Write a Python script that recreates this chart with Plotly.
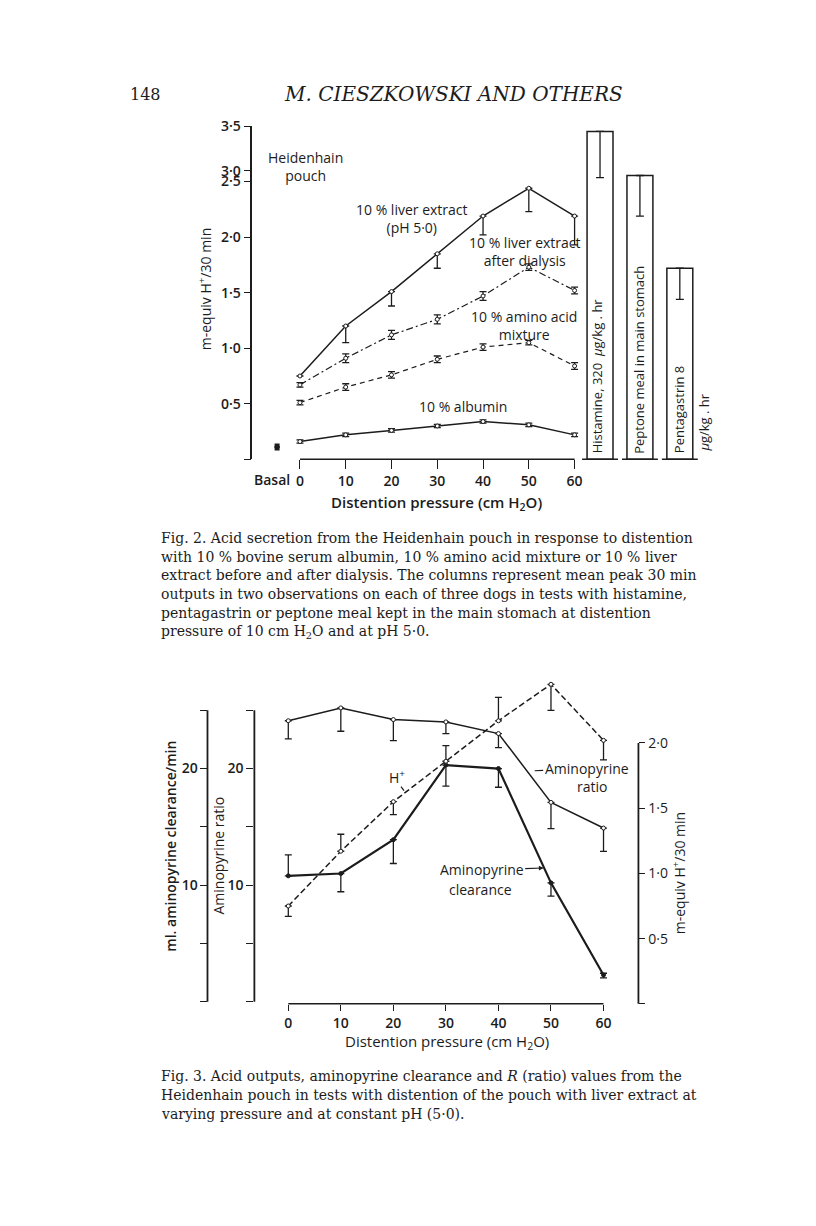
import numpy as np
import plotly.graph_objects as go

# ---------------- data : Fig. 2 (upper chart) ----------------
pressure = [0, 10, 20, 30, 40, 50, 60]
pressure_labels = ["0", "10", "20", "30", "40", "50", "60"]

liver = [0.75, 1.20, 1.51, 1.85, 2.19, 2.44, 2.19]
liver_err_down = [0.0, 0.15, 0.13, 0.13, 0.17, 0.21, 0.26]

dialysis = [0.67, 0.91, 1.12, 1.26, 1.47, 1.73, 1.52]
dialysis_err = [0.02, 0.04, 0.04, 0.04, 0.04, 0.03, 0.03]

amino = [0.51, 0.65, 0.76, 0.90, 1.01, 1.05, 0.84]
amino_err = [0.02, 0.03, 0.03, 0.03, 0.03, 0.02, 0.03]

albumin = [0.16, 0.22, 0.26, 0.30, 0.34, 0.31, 0.22]
albumin_err = [0.015, 0.015, 0.015, 0.015, 0.015, 0.015, 0.015]

basal_x = [-5]
basal_y = [0.11]
basal_err = [0.02]

columns = ["Histamine", "Peptone meal", "Pentagastrin"]
column_vals = [3.44, 2.78, 1.72]
column_err_down = [0.76, 0.59, 0.28]

# broken y axis of the upper chart: data value -> axis position
break_data = [0.0, 2.5, 3.0, 3.5]
break_axis = [0.0, 2.5, 2.598, 3.0]
y1_tick_vals = [0.5, 1.0, 1.5, 2.0, 2.5, 3.0, 3.5]
y1_tick_text = ["0·5", "1·0", "1·5", "2·0", "2·5", "3·0", "3·5"]
y1_minor_vals = [0.0]

# ---------------- data : Fig. 3 (lower chart) ----------------
ratio = [24.1, 25.2, 24.2, 24.0, 23.0, 17.1, 14.9]
ratio_err_down = [1.55, 2.0, 1.8, 1.0, 1.2, 2.25, 2.0]

clearance = [10.8, 11.0, 13.9, 20.3, 20.0, 10.2, 2.3]
clearance_err_up = [1.8, 0, 0, 0, 0, 0, 0.15]
clearance_err_down = [0, 1.56, 2.04, 1.8, 1.6, 1.14, 0.25]

hplus = [0.75, 1.17, 1.55, 1.86, 2.17, 2.45, 2.02]
hplus_err_up = [0, 0.13, 0, 0.12, 0.18, 0, 0]
hplus_err_down = [0.08, 0, 0.10, 0, 0, 0.20, 0.15]

left_tick_vals = [10, 20]
left_tick_text = ["10", "20"]
left_minor_vals = [0, 5, 15, 25]
right_tick_vals = [0.5, 1.0, 1.5, 2.0]
right_tick_text = ["0·5", "1·0", "1·5", "2·0"]
right_minor_vals = [0.0]

caption2 = [
    "Fig. 2. Acid secretion from the Heidenhain pouch in response to distention",
    "with 10 % bovine serum albumin, 10 % amino acid mixture or 10 % liver",
    "extract before and after dialysis. The columns represent mean peak 30 min",
    "outputs in two observations on each of three dogs in tests with histamine,",
    "pentagastrin or peptone meal kept in the main stomach at distention",
    "pressure of 10 cm H<sub>2</sub>O and at pH 5·0.",
]
caption3 = [
    "Fig. 3. Acid outputs, aminopyrine clearance and <i>R</i> (ratio) values from the",
    "Heidenhain pouch in tests with distention of the pouch with liver extract at",
    "varying pressure and at constant pH (5·0).",
]

# ---------------- page geometry (pixels) ----------------
W, H = 816, 1226
INK = "#1c1c1c"
SANS = "Open Sans"
SERIF = "DejaVu Serif"


def px(x):
    return x / W


def py(y):
    return 1 - y / H


def T(v):
    return np.interp(np.asarray(v, dtype=float), break_data, break_axis)


# upper chart frame
F1_LEFT, F1_RIGHT, F1_X0, F1_X60 = 253.0, 582.0, 300.7, 576.0
F1_TOP, F1_BOT = 117.0, 453.0
s1 = (F1_X60 - F1_X0) / 60.0
x1_range = [(F1_LEFT - F1_X0) / s1, (F1_RIGHT - F1_X0) / s1]

# lower chart frame
F2_LEFT, F2_RIGHT, F2_X0, F2_X60 = 255.0, 640.0, 289.0, 605.0
F2_TOP, F2_BOT = 672.0, 1002.0
s2 = (F2_X60 - F2_X0) / 60.0
x3_range = [(F2_LEFT - F2_X0) / s2, (F2_RIGHT - F2_X0) / s2]
L_ZERO, L_25 = 1000.0, 706.0
sl = (L_ZERO - L_25) / 25.0
yl_range = [-(F2_BOT - L_ZERO) / sl, (L_ZERO - F2_TOP) / sl]
R_ZERO, R_2 = 1002.0, 739.0
sr = (R_ZERO - R_2) / 2.0
yr_range = [-(F2_BOT - R_ZERO) / sr, (R_ZERO - F2_TOP) / sr]

fig = go.Figure()


def series(x, y, up, down, dash, width, xa, ya, filled=False, msize=4, transform=False):
    y = np.asarray(y, dtype=float)
    up = np.asarray(up, dtype=float)
    down = np.asarray(down, dtype=float)
    if transform:
        yy = T(y)
        upp = T(y + up) - yy
        dnn = yy - T(y - down)
    else:
        yy, upp, dnn = y, up, down
    return go.Scatter(
        x=x, y=yy, mode="lines+markers", xaxis=xa, yaxis=ya,
        line=dict(color=INK, width=width, dash=dash),
        marker=dict(symbol="circle", size=msize, color=INK if filled else "white",
                    line=dict(color=INK, width=1)),
        error_y=dict(type="data", symmetric=False, array=upp, arrayminus=dnn,
                     color=INK, thickness=1.3, width=3.5),
        showlegend=False, hoverinfo="skip", cliponaxis=False,
    )


zeros = [0] * 7
# upper chart series
fig.add_trace(series(pressure, liver, zeros, liver_err_down, "solid", 1.5, "x", "y", transform=True))
fig.add_trace(series(pressure, dialysis, dialysis_err, dialysis_err, "7px,3px,2px,3px", 1.2, "x", "y", transform=True))
fig.add_trace(series(pressure, amino, amino_err, amino_err, "5px,4px", 1.2, "x", "y", transform=True))
fig.add_trace(series(pressure, albumin, albumin_err, albumin_err, "solid", 1.5, "x", "y", transform=True))
fig.add_trace(go.Scatter(
    x=basal_x, y=T(basal_y), mode="markers", xaxis="x", yaxis="y",
    marker=dict(symbol="line-ew", size=4, color=INK, line=dict(color=INK, width=2)),
    error_y=dict(type="data", array=basal_err, color=INK, thickness=2.5, width=2.5),
    showlegend=False, hoverinfo="skip"))

# columns
bar_top = T(column_vals)
bar_err = bar_top - T(np.array(column_vals) - np.array(column_err_down))
fig.add_trace(go.Bar(
    x=[0, 1, 2], y=bar_top, xaxis="x2", yaxis="y", width=0.65,
    marker=dict(color="white", line=dict(color=INK, width=1.5)),
    error_y=dict(type="data", symmetric=False, array=[0, 0, 0], arrayminus=bar_err,
                 color=INK, thickness=1.3, width=4),
    showlegend=False, hoverinfo="skip"))

# lower chart series
fig.add_trace(series(pressure, ratio, zeros, ratio_err_down, "solid", 1.5, "x3", "y3"))
fig.add_trace(series(pressure, clearance, clearance_err_up, clearance_err_down, "solid", 2.2, "x3", "y4", filled=True))
fig.add_trace(series(pressure, hplus, hplus_err_up, hplus_err_down, "6px,3px", 1.5, "x3", "y5"))

tickfont = dict(family=SANS, size=14, color=INK, weight=600)
common = dict(showgrid=False, zeroline=False, ticks="outside", tickcolor=INK,
              tickwidth=1.4, tickfont=tickfont, fixedrange=True)


def minor(vals, ln):
    return dict(tickvals=vals, ticks="outside", ticklen=ln, tickwidth=1.4, tickcolor=INK,
                showgrid=False)


fig.update_layout(
    width=W, height=H, autosize=False,
    margin=dict(l=0, r=0, t=0, b=0),
    paper_bgcolor="white", plot_bgcolor="rgba(0,0,0,0)",
    showlegend=False,
    xaxis=dict(domain=[px(F1_LEFT), px(F1_RIGHT)], range=x1_range, anchor="y",
               showline=False, tickvals=pressure, ticktext=pressure_labels, ticklen=9, **common),
    yaxis=dict(domain=[py(F1_BOT), py(F1_TOP)], range=[0, 3.0], anchor="x",
               showline=True, linecolor=INK, linewidth=1.5,
               tickvals=list(T(y1_tick_vals)), ticktext=y1_tick_text, ticklen=7,
               minor=minor(list(T(y1_minor_vals)), 7), **common),
    xaxis2=dict(domain=[px(581.5), px(701.5)], range=[-0.5, 2.5], anchor="y", visible=False,
                fixedrange=True),
    xaxis3=dict(domain=[px(F2_LEFT), px(F2_RIGHT)], range=x3_range, anchor="y3",
                showline=False, tickvals=pressure, ticktext=pressure_labels, ticklen=6, **common),
    yaxis3=dict(domain=[py(F2_BOT), py(F2_TOP)], range=yl_range, anchor="x3",
                showline=False, tickvals=left_tick_vals, ticktext=left_tick_text, ticklen=7,
                minor=minor(left_minor_vals, 7), **common),
    yaxis4=dict(overlaying="y3", anchor="free", position=px(208), side="left", range=yl_range,
                showline=False, tickvals=left_tick_vals, ticktext=left_tick_text, ticklen=7,
                minor=minor(left_minor_vals, 7), **common),
    yaxis5=dict(overlaying="y3", anchor="free", position=px(640), side="right", range=yr_range,
                showline=False, tickvals=right_tick_vals, ticktext=right_tick_text, ticklen=6,
                minor=minor(right_minor_vals, 6),
                **{**common, "tickfont": dict(family=SANS, size=14, color=INK)}),
)

shapes = []


def seg(x0, y0, x1, y1, w=1.5):
    shapes.append(dict(type="line", xref="paper", yref="paper", x0=px(x0), y0=py(y0),
                       x1=px(x1), y1=py(y1), line=dict(color=INK, width=w)))


seg(F1_X0, F1_BOT, F1_X60, F1_BOT)                 # upper x-axis line
for i in range(3):                                 # column baselines
    c = 581.5 + (i + 0.5) * 40
    seg(c - 18, F1_BOT, c + 18, F1_BOT)
seg(F2_X0, F2_BOT, F2_X60, F2_BOT)                 # lower x-axis line
seg(F2_LEFT, L_25, F2_LEFT, L_ZERO, 1.8)           # ratio axis
seg(208, L_25, 208, L_ZERO, 1.8)                   # clearance axis
seg(F2_RIGHT, R_2, F2_RIGHT, R_ZERO, 1.8)          # H+ axis
seg(402, 783, 405, 787, 1.2)                       # H+ pointer
fig.update_layout(shapes=shapes)

ann = []


def text(t, x, y, size=14, angle=0, xa="center", ya="middle", family=SANS, weight=None, color=INK):
    f = dict(family=family, size=size, color=color)
    if weight:
        f["weight"] = weight
    ann.append(dict(text=t, x=px(x), y=py(y), xref="paper", yref="paper", showarrow=False,
                    textangle=angle, xanchor=xa, yanchor=ya, font=f))


# header
text("148", 128, 85, size=16, family=SERIF, xa="left")
text("<i>M. CIESZKOWSKI AND OTHERS</i>", 455, 85, size=20, family=SERIF)

# upper chart labels
text("Heidenhain<br>pouch", 306, 158)
text("10 % liver extract<br>(pH 5·0)", 413, 210)
text("10 % liver extract<br>after dialysis", 526, 243)
text("10 % amino acid<br>mixture", 525, 318)
text("10 % albumin", 464, 400)
text("Basal", 273, 473, weight=600)
text("m-equiv H<sup>+</sup>/30 min", 205, 281, angle=-90)
text("Distention pressure (cm H<sub>2</sub>O)", 438, 497, size=15, weight=600)
text("Histamine, 320  <i>μ</i>g/kg . hr", 598, 449, size=13, angle=-90, ya="bottom")
text("Peptone meal in main stomach", 641, 449, size=13, angle=-90, ya="bottom")
text("Pentagastrin 8", 681, 449, size=13, angle=-90, ya="bottom")
text("<i>μ</i>g/kg . hr", 706, 447, size=13, angle=-90, ya="bottom")

# captions
for k, line in enumerate(caption2):
    text(line, 159, 532 + 19 * k, size=14, family=SERIF, xa="left")
for k, line in enumerate(caption3):
    text(line, 159, 1075 + 19 * k, size=14, family=SERIF, xa="left")

# lower chart labels
text("ml. aminopyrine clearance/min", 171, 843, angle=-90, weight=600)
text("Aminopyrine ratio", 219, 852, angle=-90)
text("m-equiv H<sup>+</sup>/30 min", 681, 870, angle=-90)
text("H<sup>+</sup>", 398, 773)
text("ratio", 593, 783)
text("clearance", 482, 887)
text("Distention pressure (cm H<sub>2</sub>O)", 448, 1040, size=15)

ann.append(dict(text="Aminopyrine", x=px(536), y=py(767), xref="paper", yref="paper",
                ax=52, ay=-2, showarrow=True, arrowhead=0, arrowwidth=1.2, arrowcolor=INK,
                font=dict(family=SANS, size=14, color=INK)))
ann.append(dict(text="Aminopyrine", x=px(545), y=py(865), xref="paper", yref="paper",
                ax=-62, ay=2, showarrow=True, arrowhead=2, arrowsize=0.8, arrowwidth=1.2,
                arrowcolor=INK, font=dict(family=SANS, size=14, color=INK)))

fig.update_layout(annotations=ann)

fig.write_html("out.html", config={"displayModeBar": False},
               post_script="document.body.style.margin='0';")
